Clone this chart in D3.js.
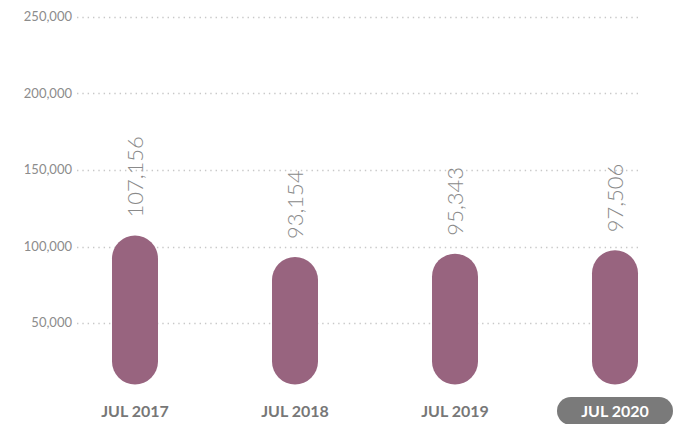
<!DOCTYPE html>
<html><head><meta charset="utf-8">
<script src="https://cdn.jsdelivr.net/npm/d3@7/dist/d3.min.js"></script>
<style>
html,body{margin:0;padding:0;background:#fff;}
svg{display:block;font-family:Lato,"Open Sans",sans-serif;}
</style></head>
<body><svg id="chart" width="673" height="424"></svg>
<script>
const categories = ["JUL 2017", "JUL 2018", "JUL 2019", "JUL 2020"];
const values = [107156, 93154, 95343, 97506];
const yTicks = [50000, 100000, 150000, 200000, 250000];
const highlighted = "JUL 2020";

const svg = d3.select("#chart");
const W = 673, H = 424;

const y = d3.scaleLinear().domain([0, 250000]).range([399.5, 17]);
const x = d3.scalePoint().domain(categories).range([135, 615]);
const barW = 46;
const fmt = d3.format(",");

// grid + y labels
const grid = svg.append("g");
yTicks.forEach(t => {
  grid.append("line")
    .attr("x1", 77).attr("x2", 638)
    .attr("y1", Math.round(y(t)) + 0.5).attr("y2", Math.round(y(t)) + 0.5)
    .attr("stroke", "#c8c8c8").attr("stroke-width", 1.3)
    .attr("stroke-dasharray", "1.4,3.93");
  grid.append("text")
    .attr("x", 72).attr("y", y(t) + 4)
    .attr("text-anchor", "end")
    .attr("font-size", 13).attr("fill", "#8c8c8c")
    .text(fmt(t));
});

// bars (pill)
const base = y(0) - 15;
svg.append("g").selectAll("rect").data(values).join("rect")
  .attr("x", (d, i) => x(categories[i]) - barW / 2)
  .attr("width", barW)
  .attr("y", d => y(d))
  .attr("height", d => base - y(d))
  .attr("rx", barW / 2).attr("ry", barW / 2)
  .attr("fill", "#98647f");

// value labels
svg.append("g").selectAll("text").data(values).join("text")
  .attr("transform", (d, i) => `translate(${x(categories[i]) + 8},${y(d) - 18}) rotate(-90)`)
  .attr("font-size", 22).attr("font-weight", 300).attr("fill", "#8a8a8a")
  .text(d => fmt(d));

// x labels
const xl = svg.append("g");
categories.forEach(c => {
  if (c === highlighted) {
    xl.append("rect")
      .attr("x", x(c) - 58).attr("y", 397)
      .attr("width", 116).attr("height", 28)
      .attr("rx", 14).attr("fill", "#7a7a7a");
  }
  xl.append("text")
    .attr("x", x(c)).attr("y", 417)
    .attr("text-anchor", "middle")
    .attr("font-size", 16).attr("font-weight", 700)
    .attr("fill", c === highlighted ? "#ffffff" : "#777777")
    .text(c);
});
</script></body></html>
